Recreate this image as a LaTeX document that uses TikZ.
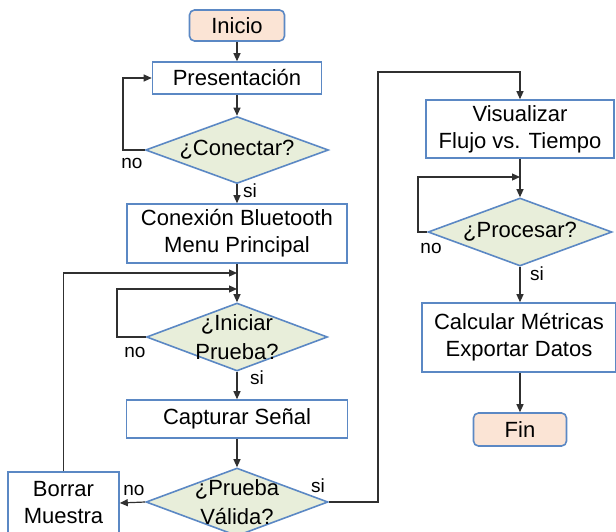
\documentclass[tikz,border=0pt]{standalone}
\usepackage{fontspec}
\setmainfont{Liberation Sans}
\usetikzlibrary{shapes.geometric,arrows.meta}
\definecolor{bord}{HTML}{5B88C4}
\definecolor{peach}{HTML}{FBE4D5}
\definecolor{dfill}{HTML}{E8EEDA}
\definecolor{conn}{HTML}{303030}
\begin{document}
\begin{tikzpicture}[x=1pt,y=-1pt,
  every node/.style={font=\fontsize{22}{27}\selectfont, align=center, inner sep=0pt},
  procbox/.style={draw=bord, line width=1.6pt, fill=white, rectangle},
  termbox/.style={draw=bord, line width=1.6pt, fill=peach, rectangle, rounded corners=5pt},
  decis/.style={draw=bord, line width=1.6pt, fill=dfill, diamond},
  dtext/.style={font=\fontsize{22}{29}\selectfont, align=center},
  lab/.style={font=\fontsize{19}{22}\selectfont, anchor=base},
  arr/.style={draw=conn, line width=1.2pt, -{Triangle[length=8pt,width=7pt]}},
  ln/.style={draw=conn, line width=1.2pt}]
\useasboundingbox (0,0) rectangle (616,531);
% left column
\node[termbox, minimum width=95, minimum height=31] (inicio) at (237,25.5) {Inicio};
\node[procbox, minimum width=169, minimum height=32] (pres) at (237,78) {Presentación};
\node[decis, minimum width=183, minimum height=67, label={[dtext]center:¿Conectar?}] (d1) at (237,150) {};
\node[procbox, minimum width=220, minimum height=59] (con) at (237,233.5) {Conexión Bluetooth\\Menu Principal};
\node[decis, minimum width=181, minimum height=68, label={[dtext]center:¿Iniciar\\Prueba?}] (d2) at (237,337) {};
\node[procbox, minimum width=221, minimum height=38] (cap) at (237,419) {Capturar Señal};
\node[decis, minimum width=182, minimum height=68, label={[dtext]center:¿Prueba\\Válida?}] (d3) at (237,502) {};
\node[procbox, minimum width=111, minimum height=62] (bor) at (63.5,503) {Borrar\\Muestra};
% right column
\node[procbox, minimum width=188, minimum height=58] (vis) at (520,129) {Visualizar\\Flujo vs. Tiempo};
\node[decis, minimum width=184, minimum height=68, label={[dtext]center:¿Procesar?}] (d4) at (520,232) {};
\node[procbox, minimum width=194, minimum height=69] (calc) at (519,337.5) {Calcular Métricas\\Exportar Datos};
\node[termbox, minimum width=93, minimum height=33] (fin) at (520,429.5) {Fin};
% coordinates
\coordinate (l1) at (123,150);
\coordinate (l2) at (117,337);
\coordinate (m2) at (237,289);
\coordinate (m1) at (237,273);
\coordinate (r1) at (378,72);
\coordinate (l4) at (418,232);
\coordinate (m4) at (520,177);
% connectors
\draw[arr] (inicio) -- (pres);
\draw[arr] (pres) -- (d1);
\draw[arr] (d1) -- (con);
\draw[arr] (d1.west) -- (l1) |- (pres.west);
\draw[arr] (con) -- (d2);
\draw[arr] (d2.west) -- (l2) |- (m2);
\draw[arr] (bor.north) |- (m1);
\draw[arr] (d2) -- (cap);
\draw[arr] (cap) -- (d3);
\draw[arr] (d3.west) -- (bor.east);
\draw[arr] (d3.east) -| (r1) -| (vis.north);
\draw[arr] (vis) -- (d4);
\draw[arr] (d4.west) -- (l4) |- (m4);
\draw[arr] (d4) -- (calc.north -| d4);
\draw[arr] (calc.south -| fin) -- (fin);
% labels
\node[lab] (no1) at (132,168) {no};
\node[lab] (si1) at (250,197) {si};
\node[lab] (no2) at (135,357) {no};
\node[lab] (si2) at (257,384) {si};
\node[lab] (no3) at (134,495) {no};
\node[lab] (si3) at (318,492) {si};
\node[lab] (no4) at (431,253) {no};
\node[lab] (si4) at (537,280) {si};
\end{tikzpicture}
\end{document}
